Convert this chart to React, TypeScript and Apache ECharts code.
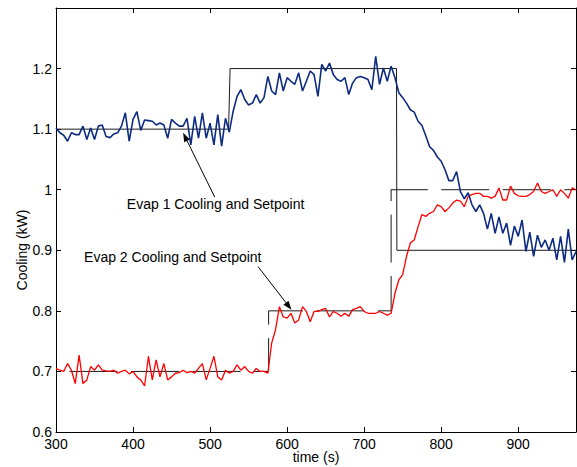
import { useEffect, useRef } from "react";
import * as echarts from "echarts";

// sampling of the measured signals (s)
const tStart = 300;
const tStep = 5;

// Evap 1 cooling (kW), 300 s .. 975 s every 5 s
const evap1 = [
  1.102, 1.094, 1.09, 1.08, 1.094, 1.091, 1.091, 1.105, 1.083, 1.102,
  1.083, 1.105, 1.107, 1.088, 1.086, 1.092, 1.094, 1.105, 1.127, 1.08,
  1.116, 1.129, 1.098, 1.115, 1.114, 1.113, 1.107, 1.11, 1.107, 1.085,
  1.116, 1.11, 1.105, 1.105, 1.118, 1.074, 1.121, 1.085, 1.127, 1.085,
  1.11, 1.074, 1.124, 1.072, 1.118, 1.095, 1.13, 1.154, 1.165, 1.149,
  1.14, 1.143, 1.157, 1.143, 1.152, 1.187, 1.163, 1.157, 1.193, 1.163,
  1.185, 1.179, 1.174, 1.193, 1.163, 1.179, 1.196, 1.19, 1.154, 1.207,
  1.196, 1.209, 1.19, 1.182, 1.179, 1.185, 1.157, 1.176, 1.185, 1.187,
  1.185, 1.182, 1.165, 1.22, 1.174, 1.201, 1.179, 1.204, 1.185, 1.16,
  1.152, 1.143, 1.132, 1.128, 1.113, 1.106, 1.089, 1.071, 1.065, 1.054,
  1.047, 1.033, 1.015, 1.015, 1.03, 0.997, 0.985, 0.995, 0.975, 0.964,
  0.975, 0.961, 0.935, 0.961, 0.928, 0.955, 0.928, 0.945, 0.908, 0.94,
  0.923, 0.95, 0.898, 0.93, 0.89, 0.925, 0.905, 0.917, 0.9, 0.92,
  0.884, 0.923, 0.88, 0.935, 0.884, 0.898,
];

// Evap 2 cooling (kW), 300 s .. 975 s every 5 s
const evap2 = [
  0.705, 0.702, 0.7, 0.713, 0.702, 0.68, 0.727, 0.68, 0.686, 0.708,
  0.702, 0.711, 0.702, 0.701, 0.7, 0.702, 0.697, 0.7, 0.702, 0.696,
  0.7, 0.691, 0.686, 0.676, 0.725, 0.686, 0.719, 0.691, 0.713, 0.686,
  0.691, 0.697, 0.698, 0.702, 0.698, 0.7, 0.697, 0.705, 0.713, 0.686,
  0.705, 0.725, 0.691, 0.686, 0.702, 0.697, 0.7, 0.711, 0.702, 0.708,
  0.7, 0.697, 0.705, 0.7, 0.7, 0.697, 0.747, 0.769, 0.807, 0.79,
  0.788, 0.796, 0.78, 0.785, 0.807, 0.799, 0.782, 0.799, 0.799, 0.802,
  0.804, 0.79, 0.799, 0.796, 0.791, 0.796, 0.791, 0.802, 0.804, 0.807,
  0.799, 0.796, 0.796, 0.796, 0.799, 0.796, 0.793, 0.796, 0.829, 0.851,
  0.86, 0.89, 0.912, 0.917, 0.939, 0.959, 0.956, 0.961, 0.964, 0.975,
  0.972, 0.964, 0.97, 0.978, 0.983, 0.981, 0.972, 0.989, 0.992, 0.994,
  0.994, 0.989, 0.989, 0.986, 0.989, 1.003, 0.983, 0.983, 1.006, 0.994,
  0.99, 0.989, 0.989, 0.992, 0.997, 1.011, 0.997, 0.994, 0.997, 1.0,
  0.989, 1.0, 0.994, 0.986, 1.003, 1.0,
];

// setpoints
const sp1Time = [300, 524, 526, 742, 742.5, 975];
const sp1Value = [1.1, 1.1, 1.2, 1.2, 0.9, 0.9];
const sp2Time = [300, 576, 576, 735, 735, 975];
const sp2Value = [0.7, 0.7, 0.8, 0.8, 1.0, 1.0];

// axes
const xMin = 300;
const xMax = 975;
const xInterval = 100;
const yMin = 0.6;
const yMax = 1.3;
const yInterval = 0.1;
const xTitle = "time (s)";
const yTitle = "Cooling (kW)";

// annotations (data coordinates)
const notes = [
  { text: "Evap 1 Cooling and Setpoint", at: [392, 0.977], tail: [506, 0.988], head: [465, 1.094] },
  { text: "Evap 2 Cooling and Setpoint", at: [336.4, 0.889], tail: [562.3, 0.873], head: [605.7, 0.8017] },
];

const FONT = '"Liberation Sans", Arial, Helvetica, sans-serif';

export default function App() {
  const ref = useRef<HTMLDivElement>(null);

  useEffect(() => {
    const chart = echarts.init(ref.current!, null, { renderer: "svg" });
    const e1 = evap1.map((v, i) => [tStart + i * tStep, v]);
    const e2 = evap2.map((v, i) => [tStart + i * tStep, v]);
    const s1 = sp1Time.map((t, i) => [t, sp1Value[i]]);
    const s2 = sp2Time.map((t, i) => [t, sp2Value[i]]);

    const xFmt = (v: number) => (Math.abs(v % 100) < 1e-6 ? String(v) : "");
    const yFmt = (v: number) => (v > 1.25 ? "" : String(Math.round(v * 10) / 10));

    const baseX = {
      type: "value",
      min: xMin,
      max: xMax,
      interval: xInterval,
      splitLine: { show: false },
      axisLine: { show: true, onZero: false, lineStyle: { color: "#000", width: 1 } },
      axisTick: { show: true, inside: true, length: 5, lineStyle: { color: "#000" } },
    };
    const baseY = {
      type: "value",
      min: yMin,
      max: yMax,
      interval: yInterval,
      splitLine: { show: false },
      axisLine: { show: true, onZero: false, lineStyle: { color: "#000", width: 1 } },
      axisTick: { show: true, inside: true, length: 5, lineStyle: { color: "#000" } },
    };

    chart.setOption({
      animation: false,
      backgroundColor: "#fff",
      textStyle: { fontFamily: FONT },
      grid: { left: 56, right: 1, top: 8, bottom: 35, containLabel: false, outerBoundsMode: "none" },
      xAxis: [
        {
          ...baseX,
          position: "bottom",
          axisLabel: { formatter: xFmt, color: "#000", fontSize: 14, fontFamily: FONT, margin: 5 },
        },
        { ...baseX, position: "top", axisLabel: { show: false } },
      ],
      yAxis: [
        {
          ...baseY,
          position: "left",
          axisLabel: { formatter: yFmt, color: "#000", fontSize: 14, fontFamily: FONT, margin: 4 },
        },
        { ...baseY, position: "right", axisLabel: { show: false } },
      ],
      series: [
        {
          name: "Evap 1 Setpoint",
          type: "line",
          data: s1,
          showSymbol: false,
          lineStyle: { color: "#1a1a1a", width: 1 },
        },
        {
          name: "Evap 2 Setpoint",
          type: "line",
          data: s2,
          showSymbol: false,
          lineStyle: { color: "#1a1a1a", width: 1, type: [48, 13.5], dashOffset: 48 },
        },
        {
          name: "Evap 2 Cooling",
          type: "line",
          data: e2,
          showSymbol: false,
          lineStyle: { color: "#ff0000", width: 1.3 },
        },
        {
          name: "Evap 1 Cooling",
          type: "line",
          data: e1,
          showSymbol: false,
          lineStyle: { color: "#0d2c80", width: 1.6 },
        },
      ],
    });

    const px = (d: number[]) => chart.convertToPixel({ gridIndex: 0 }, d) as number[];
    const left = px([xMin, yMin]);
    const right = px([xMax, yMin]);
    const graphics: any[] = [
      {
        type: "text",
        x: 22,
        y: 250,
        rotation: Math.PI / 2,
        style: { text: yTitle, fill: "#000", font: `14px ${FONT}`, align: "center", verticalAlign: "middle" },
      },
      {
        type: "text",
        x: (left[0] + right[0]) / 2,
        y: 457,
        style: { text: xTitle, fill: "#000", font: `14px ${FONT}`, align: "center", verticalAlign: "middle" },
      },
    ];
    notes.forEach((n) => {
      const a = px(n.at);
      const t = px(n.tail);
      const h = px(n.head);
      const dx = h[0] - t[0];
      const dy = h[1] - t[1];
      const len = Math.sqrt(dx * dx + dy * dy);
      const ux = dx / len;
      const uy = dy / len;
      const L = 9;
      const W = 3.2;
      const bx = h[0] - ux * L;
      const by = h[1] - uy * L;
      graphics.push(
        {
          type: "text",
          x: a[0],
          y: a[1],
          style: { text: n.text, fill: "#000", font: `14px ${FONT}`, align: "left", verticalAlign: "middle" },
        },
        {
          type: "line",
          shape: { x1: t[0], y1: t[1], x2: bx, y2: by },
          style: { stroke: "#000", lineWidth: 1 },
        },
        {
          type: "polygon",
          shape: {
            points: [
              [h[0], h[1]],
              [bx - uy * W, by + ux * W],
              [bx + uy * W, by - ux * W],
            ],
          },
          style: { fill: "#000" },
        }
      );
    });
    chart.setOption({ graphic: graphics });

    return () => chart.dispose();
  }, []);

  return (
    <div
      ref={ref}
      style={{ position: "fixed", left: 0, top: 0, width: 577, height: 467, background: "#fff" }}
    />
  );
}
